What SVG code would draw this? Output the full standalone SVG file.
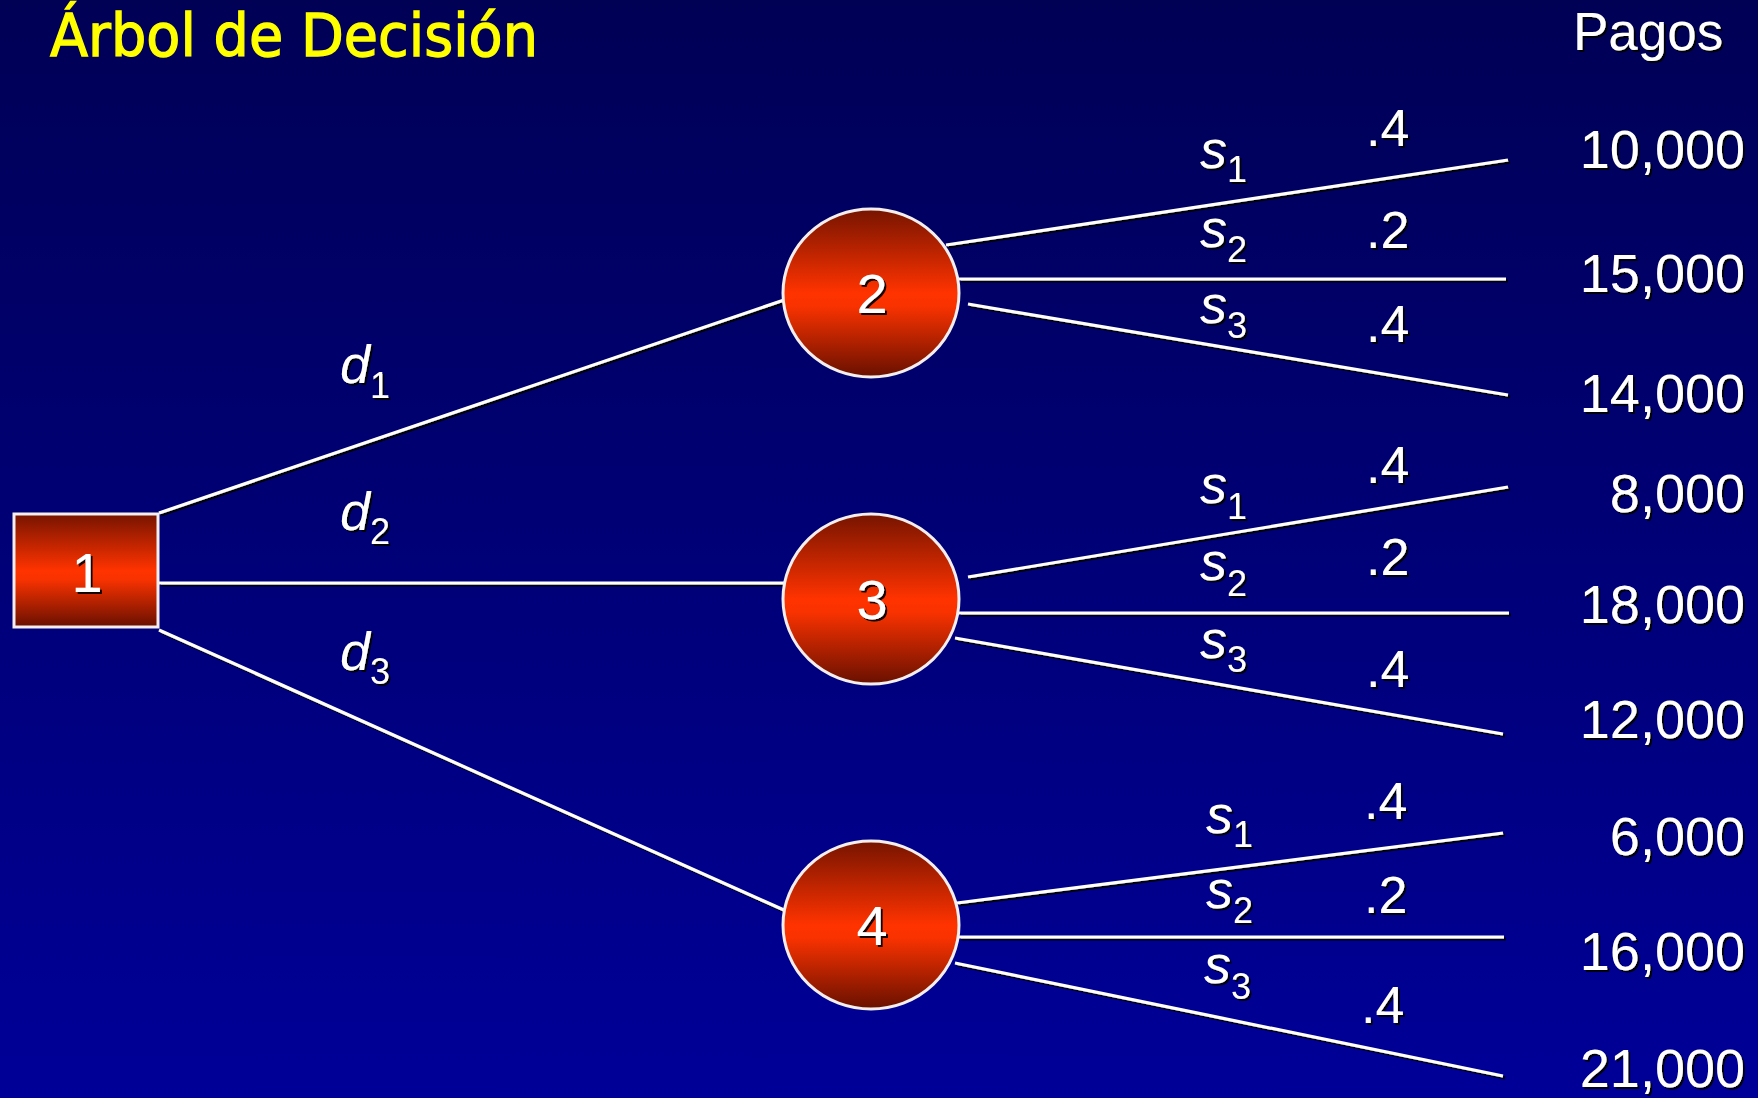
<svg xmlns="http://www.w3.org/2000/svg" width="1758" height="1098" viewBox="0 0 1758 1098">
<defs>
<linearGradient id="bg" x1="0" y1="0" x2="0" y2="1"><stop offset="0" stop-color="#000055"/><stop offset="1" stop-color="#000098"/></linearGradient>
<linearGradient id="nodeFill" x1="0" y1="0" x2="0" y2="1"><stop offset="0" stop-color="#761400"/><stop offset="0.5" stop-color="#ff3300"/><stop offset="0.58" stop-color="#f83200"/><stop offset="1" stop-color="#681000"/></linearGradient>
<filter id="sh" filterUnits="userSpaceOnUse" x="0" y="0" width="1758" height="1098"><feDropShadow dx="2" dy="2" stdDeviation="0.7" flood-color="#000000" flood-opacity="0.9"/></filter>
<style>
.t{font-family:"Liberation Sans",Arial,sans-serif;fill:#ffffff}
.lbl{font-family:"Liberation Sans",Arial,sans-serif;fill:#ffffff;font-style:italic;font-size:54px}
.sub{font-style:normal;font-size:36px}
.num{font-size:54px;text-anchor:end}
.pr{font-size:52px}
.nid{font-size:56px;text-anchor:middle}
.edge{stroke:#ffffff;stroke-width:3.2;fill:none}
.node{fill:url(#nodeFill);stroke:#f4eeee;stroke-width:3}
</style>
</defs>
<rect x="0" y="0" width="1758" height="1098" fill="url(#bg)"/>
<text x="50" y="56" font-family="'Comic Sans MS','DejaVu Sans',sans-serif" font-size="58" fill="#ffff00" stroke="#ffff00" stroke-width="1.3" textLength="488" lengthAdjust="spacingAndGlyphs">Árbol de Decisión</text>
<text class="t" x="1573" y="50" font-size="53" filter="url(#sh)">Pagos</text>

<g id="connectors" filter="url(#sh)">
<line class="edge" x1="159" y1="513" x2="784" y2="300"/>
<line class="edge" x1="159" y1="583" x2="784" y2="583"/>
<line class="edge" x1="159" y1="630" x2="784" y2="910"/>
<line class="edge" x1="946" y1="245" x2="1508" y2="160"/>
<line class="edge" x1="959" y1="279" x2="1506" y2="279"/>
<line class="edge" x1="968" y1="304" x2="1508" y2="395"/>
<line class="edge" x1="968" y1="577" x2="1508" y2="487"/>
<line class="edge" x1="959" y1="613" x2="1509" y2="613"/>
<line class="edge" x1="955" y1="638" x2="1503" y2="734"/>
<line class="edge" x1="957" y1="903" x2="1503" y2="833"/>
<line class="edge" x1="959" y1="937" x2="1504" y2="937"/>
<line class="edge" x1="955" y1="963" x2="1503" y2="1076"/>
</g>

<g id="node1">
<rect class="node" x="14" y="514" width="144" height="113"/>
<text class="t nid" x="87" y="592" filter="url(#sh)">1</text>
</g>
<g id="node2">
<ellipse class="node" cx="871" cy="293" rx="88" ry="84"/>
<text class="t nid" x="872" y="313" filter="url(#sh)">2</text>
</g>
<g id="node3">
<ellipse class="node" cx="871" cy="599" rx="88" ry="85"/>
<text class="t nid" x="872" y="619" filter="url(#sh)">3</text>
</g>
<g id="node4">
<ellipse class="node" cx="871" cy="925" rx="88" ry="84"/>
<text class="t nid" x="872" y="945" filter="url(#sh)">4</text>
</g>

<g id="labels" filter="url(#sh)">
<text class="lbl" x="340" y="383">d<tspan class="sub" dy="15">1</tspan></text>
<text class="lbl" x="340" y="530">d<tspan class="sub" dy="14">2</tspan></text>
<text class="lbl" x="340" y="670">d<tspan class="sub" dy="14">3</tspan></text>

<text class="lbl" x="1200" y="168">s<tspan class="sub" dy="14">1</tspan></text>
<text class="lbl" x="1200" y="247">s<tspan class="sub" dy="15">2</tspan></text>
<text class="lbl" x="1200" y="323">s<tspan class="sub" dy="15">3</tspan></text>
<text class="lbl" x="1200" y="503">s<tspan class="sub" dy="16">1</tspan></text>
<text class="lbl" x="1200" y="580">s<tspan class="sub" dy="16">2</tspan></text>
<text class="lbl" x="1200" y="658">s<tspan class="sub" dy="14">3</tspan></text>
<text class="lbl" x="1206" y="833">s<tspan class="sub" dy="14">1</tspan></text>
<text class="lbl" x="1206" y="908">s<tspan class="sub" dy="15">2</tspan></text>
<text class="lbl" x="1204" y="983">s<tspan class="sub" dy="16">3</tspan></text>

<text class="t pr" x="1366" y="146">.4</text>
<text class="t pr" x="1366" y="248">.2</text>
<text class="t pr" x="1366" y="342">.4</text>
<text class="t pr" x="1366" y="483">.4</text>
<text class="t pr" x="1366" y="575">.2</text>
<text class="t pr" x="1366" y="687">.4</text>
<text class="t pr" x="1364" y="819">.4</text>
<text class="t pr" x="1364" y="913">.2</text>
<text class="t pr" x="1361" y="1023">.4</text>

<text class="t num" x="1745" y="168">10,000</text>
<text class="t num" x="1745" y="292">15,000</text>
<text class="t num" x="1745" y="412">14,000</text>
<text class="t num" x="1745" y="512">8,000</text>
<text class="t num" x="1745" y="623">18,000</text>
<text class="t num" x="1745" y="738">12,000</text>
<text class="t num" x="1745" y="855">6,000</text>
<text class="t num" x="1745" y="970">16,000</text>
<text class="t num" x="1745" y="1087">21,000</text>
</g>
</svg>
